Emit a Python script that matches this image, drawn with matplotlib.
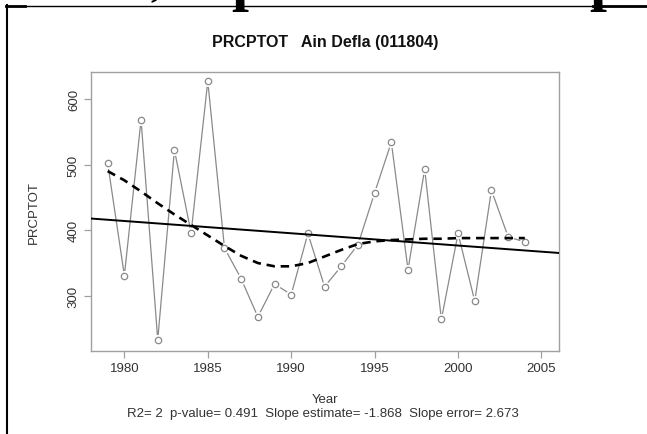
import numpy as np
import matplotlib
matplotlib.use("Agg")
import matplotlib.pyplot as plt
from matplotlib.lines import Line2D

plt.rcParams["font.family"] = ["Liberation Sans", "DejaVu Sans"]

# ---- data ----
years = list(range(1979, 2005))
prcptot = [502, 331, 568, 233, 522, 396, 627, 373, 326, 268, 318, 302, 395,
           314, 345, 378, 457, 534, 340, 493, 264, 395, 292, 461, 390, 382]
# smoothed (lowess-like) curve, read at each year
smooth = [490, 476, 459, 441, 424, 408, 392, 376, 361, 350, 345, 345, 350,
          360, 370, 379, 383, 385, 386, 387, 387, 388, 388, 388, 388, 388]
x_ticks = [1980, 1985, 1990, 1995, 2000, 2005]
y_ticks = [300, 400, 500, 600]
title = "PRCPTOT   Ain Defla (011804)"
stats_line = "R2= 2  p-value= 0.491  Slope estimate= -1.868  Slope error= 2.673"

W, H = 647, 435
fig = plt.figure(figsize=(W / 100, H / 100), dpi=100)
fig.patch.set_facecolor("white")

# axes box in pixels: left 91, right 559, top 73, bottom 352
ax = fig.add_axes([91 / W, 1 - 352 / H, (559 - 91) / W, (352 - 73) / H])

grey = "#8a8a8a"
axis_grey = "#a0a0a0"
txt = "#333333"

# series line, white halo gaps (R type="b"), open circles
ax.plot(years, prcptot, color=grey, lw=0.9, zorder=1)
ax.plot(years, prcptot, ls="none", marker="o", ms=8, mfc="white", mec="none", zorder=2)
ax.plot(years, prcptot, ls="none", marker="o", ms=4.6, mfc="white", mec=grey, mew=0.9, zorder=3)

# linear trend over full width
slope, intercept = np.polyfit(years, prcptot, 1)
ax.axline((1979, intercept + slope * 1979), slope=slope, color="black", lw=1.4, zorder=4)

# smoothed curve
ax.plot(years, smooth, color="black", lw=1.9, dashes=(3.2, 2.2), zorder=5)

ax.set_xlim(1978, 2006.05)
ax.set_ylim(216, 641)
ax.set_xticks(x_ticks)
ax.set_yticks(y_ticks)
for s in ax.spines.values():
    s.set_color(axis_grey)
    s.set_linewidth(1.0)
ax.tick_params(colors=axis_grey, labelcolor=txt, labelsize=9.5, length=5, width=0.9, direction="out")
ax.tick_params(axis="x", pad=3)
ax.tick_params(axis="y", pad=3)
for lab in ax.get_yticklabels():
    lab.set_rotation(90)
    lab.set_va("center")

ax.set_title(title, fontsize=11.5, fontweight="bold", color="#111111", pad=19)
ax.set_ylabel("PRCPTOT", fontsize=9.5, color=txt, labelpad=20)
fig.text(325 / W, 1 - 400 / H, "Year", ha="center", va="center", fontsize=9.5, color=txt)
fig.text(323 / W, 1 - 414 / H, stats_line, ha="center", va="center", fontsize=9.5, color=txt)

# page frame from the source document
fig.add_artist(Line2D([6.5 / W, 6.5 / W], [0, 1 - 6 / H], color="black", lw=1.5))
fig.add_artist(Line2D([6 / W, 1], [1 - 6.5 / H, 1 - 6.5 / H], color="black", lw=1.0))
fig.add_artist(Line2D([6 / W, 25 / W], [1 - 6.5 / H, 1 - 6.5 / H], color="black", lw=2.0))
fig.add_artist(Line2D([593 / W, 1], [1 - 6.5 / H, 1 - 6.5 / H], color="black", lw=2.0))

# clipped fragments of the document text above
serif = ["Liberation Serif", "DejaVu Serif"]
fig.text(150 / W, 1 + 5 / H, ",", family=serif, fontweight="bold", fontsize=30, va="baseline")
fig.text(231 / W, 1 + 1 / H, "p", family=serif, fontweight="bold", fontsize=44, va="baseline")
fig.text(589 / W, 1 + 1 / H, "p", family=serif, fontweight="bold", fontsize=44, va="baseline")

fig.savefig("out.png", dpi=100)
